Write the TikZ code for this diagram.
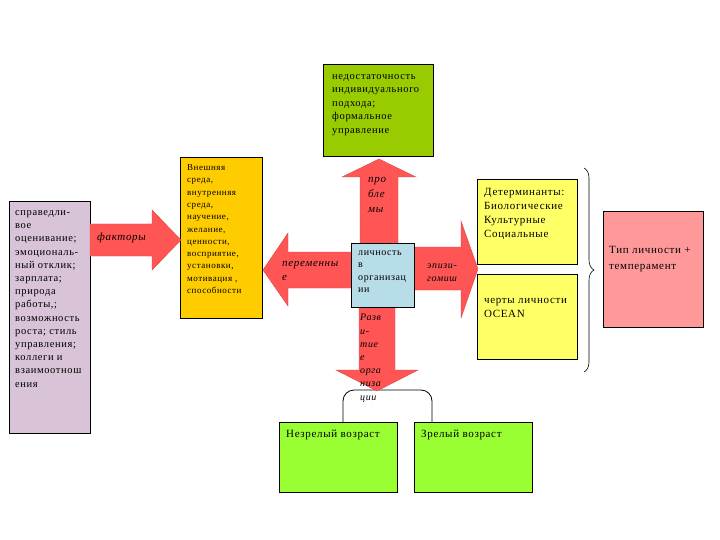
\documentclass[tikz,border=0pt]{standalone}
\usepackage{fontspec}
\setmainfont[LetterSpace=6]{Liberation Serif}
\newfontfamily\widefont[LetterSpace=6]{Liberation Serif}
\usetikzlibrary{decorations.pathreplacing}
\definecolor{lav}{HTML}{D8C4D6}
\definecolor{orng}{HTML}{FFCC00}
\definecolor{arr}{HTML}{FF5555}
\definecolor{cbox}{HTML}{B7DDE8}
\definecolor{olive}{HTML}{99CC00}
\definecolor{ylw}{HTML}{FFFF66}
\definecolor{pnk}{HTML}{FF9999}
\definecolor{lime}{HTML}{99FF33}
\tikzset{
  box/.style={draw=black, line width=0.9pt, inner sep=0pt, outer sep=0pt},
  txt/.style={anchor=base west, inner sep=0pt, align=left},
  arrowshape/.style={fill=arr, draw=arr!85!black, line width=0.4pt},
  itx/.style={txt, font=\fontsize{11}{14}\selectfont\itshape},
}
\begin{document}
\begin{tikzpicture}[x=1pt,y=-1pt]
\useasboundingbox (0,0) rectangle (720,540);
% boxes
\node[box, fill=lav, minimum width=81pt, minimum height=232pt] (lb) at (49.5,317) {};
\node[box, fill=orng, minimum width=82pt, minimum height=161pt] (ob) at (221,237.5) {};
\node[box, fill=olive, minimum width=110pt, minimum height=92pt] (gt) at (378,110) {};
\node[box, fill=ylw, minimum width=100pt, minimum height=85pt] (y1) at (527,221.5) {};
\node[box, fill=ylw, minimum width=100pt, minimum height=85pt] (y2) at (527,316.5) {};
\node[box, fill=pnk, minimum width=100pt, minimum height=116pt] (pk) at (653,269) {};
\node[box, fill=lime, minimum width=118pt, minimum height=70pt] (gl) at (338,457) {};
\node[box, fill=lime, minimum width=118pt, minimum height=70pt] (gr) at (473,457) {};
% bracket above bottom boxes
\coordinate (bl) at (343,422);
\coordinate (br) at (432,422);
\draw[line width=0.8pt, rounded corners=11pt] (bl) -- (343,390) -- (432,390) -- (br);
% factor arrow
\fill[arrowshape] (90,224) -- (152,224) -- (152,210) -- (181,240) -- (152,270) -- (152,256) -- (90,256) -- cycle;
% cross arrows
\fill[arrowshape] (360,250) -- (360,177) -- (342,177) -- (379,159) -- (416,177) -- (398,177) -- (398,250) -- cycle;
\fill[arrowshape] (359,300) -- (359,370) -- (336,370) -- (377,391) -- (418,370) -- (395,370) -- (395,300) -- cycle;
\fill[arrowshape] (358,252) -- (288,252) -- (288,233) -- (263,270) -- (288,306) -- (288,288) -- (358,288) -- cycle;
\fill[arrowshape] (408,247) -- (461,247) -- (461,221) -- (478,269) -- (461,318) -- (461,290) -- (408,290) -- cycle;
\node[box, fill=cbox, minimum width=63pt, minimum height=64pt] (cb) at (382.5,275) {};
% brace
\draw[line width=0.6pt, decorate, decoration={brace, amplitude=10pt}] (584,168) -- (584,372);
% texts (anchor = baseline of the last line)
\node[txt, font=\fontsize{10.5}{13.2}\selectfont\widefont] (tlb) at (15,387)
 {справедли-\\вое\\оценивание;\\эмоциональ-\\ный отклик;\\зарплата;\\природа\\работы,;\\возможность\\роста; стиль\\управления;\\коллеги и\\взаимоотнош\\ения};
\node[txt, font=\fontsize{9}{12.3}\selectfont] (tob) at (187,293.5)
 {Внешняя\\среда,\\внутренняя\\среда,\\научение,\\желание,\\ценности,\\восприятие,\\установки,\\мотивация ,\\способности};
\node[txt, font=\fontsize{10.5}{13.5}\selectfont] (tgt) at (332,133.5)
 {недостаточность\\индивидуального\\подхода;\\формальное\\управление};
\node[txt, font=\fontsize{10}{12.3}\selectfont] (tcb) at (358,292.5)
 {личность\\в\\организац\\ии};
\node[txt, font=\fontsize{11}{14}\selectfont] (ty1) at (484,237.5)
 {Детерминанты:\\Биологические\\Культурные\\Социальные};
\node[txt, font=\fontsize{11}{14.5}\selectfont] (ty2) at (484,317.5)
 {черты личности\\OCEAN};
\node[txt, font=\fontsize{11}{16.5}\selectfont] (tpk) at (609,269.5)
 {Тип личности +\\темперамент};
\node[txt, font=\fontsize{11}{14}\selectfont] (tgl) at (286,437) {Незрелый возраст};
\node[txt, font=\fontsize{11}{14}\selectfont] (tgr) at (421,437) {Зрелый возраст};
% arrow labels
\node[itx] (tf) at (97,240.5) {факторы};
\node[itx] (tp) at (282,280) {переменны\\е};
\node[itx, font=\fontsize{11}{15}\selectfont\itshape] (tu) at (368,213) {про\\бле\\мы};
\node[itx, font=\fontsize{10}{13.2}\selectfont\itshape] (td) at (360,400) {Разв\\и-\\тие\\е\\орга\\низа\\ции};
\node[itx, font=\fontsize{10}{13}\selectfont\itshape] (tr) at (427,281) {эпизи-\\гомиш};
\end{tikzpicture}
\end{document}
